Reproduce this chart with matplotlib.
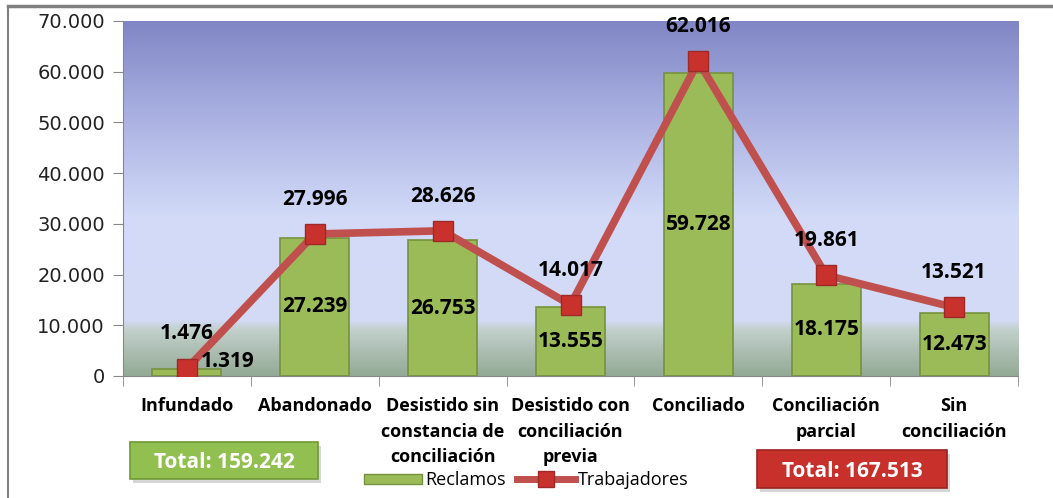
import numpy as np
import matplotlib.pyplot as plt
from matplotlib.colors import LinearSegmentedColormap
from matplotlib.lines import Line2D
from matplotlib.patches import Patch, Rectangle

categorias = ['Infundado', 'Abandonado', 'Desistido sin\nconstancia de\nconciliación',
              'Desistido con\nconciliación\nprevia', 'Conciliado', 'Conciliación\nparcial',
              'Sin\nconciliación']
reclamos = [1319, 27239, 26753, 13555, 59728, 18175, 12473]
trabajadores = [1476, 27996, 28626, 14017, 62016, 19861, 13521]
total_reclamos = 'Total: 159.242'
total_trabajadores = 'Total: 167.513'


def miles(v):
    return f'{v:,.0f}'.replace(',', '.')


fig = plt.figure(figsize=(10.53, 4.98), dpi=100)
ax = fig.add_axes([0.1168, 0.245, 0.85, 0.713])
x = np.arange(len(categorias))

# fondo degradado del area de trazado
cmap = LinearSegmentedColormap.from_list('fondo', [
    (0.0, '#93aa95'), (0.13, '#c3d0cc'), (0.155, '#d3dbf6'),
    (0.45, '#d2daf8'), (0.75, '#a7aee0'), (1.0, '#7f86c4')])
grad = np.linspace(0, 1, 256).reshape(-1, 1)
ax.imshow(grad, cmap=cmap, origin='lower', aspect='auto',
          extent=[-0.5, len(x) - 0.5, 0, 70000], zorder=0)

ax.bar(x, reclamos, width=0.54, color='#9bbb59', edgecolor='#76923c',
       linewidth=1.2, zorder=2)
ax.plot(x, trabajadores, color='#c0504d', linewidth=5.5, marker='s',
        markersize=15, markerfacecolor='#c9312c', markeredgecolor='#9e2a27',
        markeredgewidth=1, zorder=3)

for i, v in enumerate(trabajadores):
    ax.annotate(miles(v), (i, v), xytext=(0, 25), textcoords='offset points',
                ha='center', va='center', fontsize=15, fontweight='bold',
                family='Open Sans', zorder=4)
for i, v in enumerate(reclamos):
    if i == 0:
        ax.text(i + 0.11, v + 1600, miles(v), ha='left', va='center', fontsize=15,
                fontweight='bold', family='Open Sans', zorder=4)
    else:
        ax.text(i, v / 2, miles(v), ha='center', va='center', fontsize=15,
                fontweight='bold', family='Open Sans', zorder=4)

ax.set_xlim(-0.5, len(x) - 0.5)
ax.set_ylim(0, 70000)
ax.set_yticks(range(0, 70001, 10000))
ax.set_yticklabels([miles(v) for v in range(0, 70001, 10000)], fontsize=14,
                   color='#222222')
ax.tick_params(axis='y', length=7, color='#888888', pad=6)
ax.set_xticks(x)
ax.set_xticklabels(categorias, fontsize=13, fontweight='bold', family='Open Sans',
                   linespacing=1.55, va='top')
ax.tick_params(axis='x', length=0, pad=15)
ax.set_xticks(np.arange(-0.5, len(x), 1), minor=True)
ax.tick_params(axis='x', which='minor', length=7, color='#888888')
for s in ['top', 'right']:
    ax.spines[s].set_visible(False)
for s in ['left', 'bottom']:
    ax.spines[s].set_color('#888888')

handles = [Patch(facecolor='#9bbb59', edgecolor='#76923c'),
           Line2D([0], [0], color='#c0504d', linewidth=5, marker='s', markersize=11,
                  markerfacecolor='#c9312c', markeredgecolor='#9e2a27')]
fig.legend(handles, ['Reclamos', 'Trabajadores'], loc='center',
           bbox_to_anchor=(0.5, 0.036), ncol=2, frameon=False,
           prop={'family': 'Open Sans', 'size': 13}, handlelength=3.2,
           handleheight=0.5, handletextpad=0.2, columnspacing=0.6)

# cajas de totales
W, H = 1053, 498
cajas = [(total_reclamos, 130, 442, 188, 37, '#92c050', '#6f9a35'),
         (total_trabajadores, 757, 450, 190, 38, '#c8302c', '#9b2320')]
for texto, x0, y0, w, h, fc, ec in cajas:
    fig.add_artist(Rectangle((x0 / W + 0.003, 1 - (y0 + h) / H - 0.008), w / W, h / H,
                             transform=fig.transFigure, facecolor='#bbbbbb',
                             edgecolor='none', alpha=0.6))
    fig.add_artist(Rectangle((x0 / W, 1 - (y0 + h) / H), w / W, h / H,
                             transform=fig.transFigure, facecolor=fc,
                             edgecolor=ec, linewidth=1.2))
    fig.text((x0 + w / 2) / W, 1 - (y0 + h / 2 + 2) / H, texto, ha='center',
             va='center', fontsize=15, fontweight='bold', color='white',
             family='Open Sans')

# marco
fig.add_artist(Line2D([0.0076, 1.0], [0.988, 0.988], color='#808080', linewidth=2.5))
fig.add_artist(Line2D([0.0076, 0.0076], [0.0, 0.988], color='#808080', linewidth=1.5))

fig.savefig('out.png', dpi=100)
